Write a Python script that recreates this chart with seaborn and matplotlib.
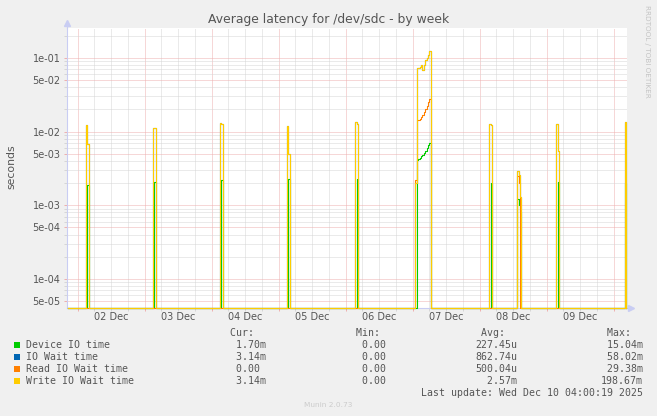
import numpy as np
import pandas as pd
import matplotlib
matplotlib.use("Agg")
import matplotlib.pyplot as plt
import matplotlib.transforms as mtransforms
from matplotlib.patches import Rectangle
from matplotlib.ticker import FixedLocator, NullFormatter
import seaborn as sns

# ---------------- data ----------------
series_names = ["Device IO time", "IO Wait time", "Read IO Wait time", "Write IO Wait time"]
series_colors = ["#00CC00", "#0066B3", "#FF8000", "#FFCC00"]

step_h = 0.5          # RRD step (hours)
first_h = -3.5        # hours relative to 02 Dec 00:00
last_h = 196.5

# start hour of every non-zero 30-min sample
spike_hours = [3.0, 3.5,
               27.0, 27.5,
               51.0, 51.5,
               75.0, 75.5,
               99.5, 100.0,
               121.0, 121.5, 122.0, 122.5, 123.0, 123.5, 124.0, 124.5, 125.0, 125.5, 126.0,
               147.5, 148.0,
               157.5, 158.0, 158.5,
               171.5, 172.0,
               196.0]

device_io = [0.0, 0.0019,
             0.0, 0.0021,
             0.0, 0.0022,
             0.0, 0.0023,
             0.0, 0.0023,
             0.0, 0.0041, 0.0042, 0.0044, 0.0046, 0.0048, 0.0051, 0.0054, 0.0060, 0.0066, 0.0070,
             0.0, 0.0020,
             0.0012, 0.0010, 0.0008,
             0.0, 0.0021,
             0.0020]

io_wait = [0.0124, 0.0067,
           0.0112, 0.0110,
           0.0130, 0.0125,
           0.0120, 0.0049,
           0.0133, 0.0125,
           0.0020, 0.0717, 0.0717, 0.0740, 0.0800, 0.0680, 0.0800, 0.0920, 0.1000, 0.1080, 0.1240,
           0.0128, 0.0122,
           0.0029, 0.0026, 0.0013,
           0.0128, 0.0054,
           0.0133]

read_io = [0.0, 0.0,
           0.0, 0.0,
           0.0, 0.0,
           0.0, 0.0,
           0.0, 0.0,
           0.0022, 0.0141, 0.0143, 0.0148, 0.0158, 0.0170, 0.0185, 0.0203, 0.0225, 0.0255, 0.0280,
           0.0, 0.0,
           0.0025, 0.0020, 0.0,
           0.0, 0.0,
           0.0]

write_io = [0.0124, 0.0067,
            0.0112, 0.0110,
            0.0130, 0.0125,
            0.0120, 0.0049,
            0.0133, 0.0125,
            0.0020, 0.0717, 0.0717, 0.0740, 0.0800, 0.0680, 0.0800, 0.0920, 0.1000, 0.1080, 0.1240,
            0.0128, 0.0122,
            0.0029, 0.0026, 0.0013,
            0.0128, 0.0054,
            0.0133]

y_limits = (4.05e-5, 0.253)
x_limits = (-3.8, 196.8)

ytick_vals = [5e-5, 1e-4, 5e-4, 1e-3, 5e-3, 1e-2, 5e-2, 1e-1]
ytick_labels = ["5e-05", "1e-04", "5e-04", "1e-03", "5e-03", "1e-02", "5e-02", "1e-01"]

day_bounds = [0, 24, 48, 72, 96, 120, 144, 168, 192]
day_label_hours = [12, 36, 60, 84, 108, 132, 156, 180]
day_labels = ["02 Dec", "03 Dec", "04 Dec", "05 Dec", "06 Dec", "07 Dec", "08 Dec", "09 Dec"]

cur_vals = ["1.70m", "3.14m", "0.00", "3.14m"]
min_vals = ["0.00", "0.00", "0.00", "0.00"]
avg_vals = ["227.45u", "862.74u", "500.04u", "2.57m"]
max_vals = ["15.04m", "58.02m", "29.38m", "198.67m"]

title = "Average latency for /dev/sdc - by week"
last_update = "Last update: Wed Dec 10 04:00:19 2025"

# ---------------- build table ----------------
hours = np.arange(first_h, last_h + step_h / 2, step_h)
rows = []
for name, vals in zip(series_names, [device_io, io_wait, read_io, write_io]):
    arr = np.zeros(len(hours))
    for h, v in zip(spike_hours, vals):
        arr[int(round((h - first_h) / step_h))] = v
    arr = np.where(arr > 0, arr, y_limits[0])
    rows.append(pd.DataFrame({"hours": hours, "value": arr, "series": name}))
df = pd.concat(rows, ignore_index=True)

# ---------------- figure ----------------
W, H = 657, 416
plt.rcParams["font.family"] = ["DejaVu Sans"]
fig = plt.figure(figsize=(W / 100, H / 100), dpi=100, facecolor="#F0F0F0")

def fx(x):
    return x / W

def fy(y):
    return 1 - y / H

L, R, T, B = 67, 627, 28, 308
ax = fig.add_axes([fx(L), fy(B), fx(R) - fx(L), fy(T) - fy(B)])
ax.set_facecolor("white")
ax.set_yscale("log")

major_c = "#eeb0b0"
minor_c = "#d6d6d6"
txt_c = "#555555"
axis_c = "#c9cdf3"
dot = (0, (1, 1))

sns.lineplot(data=df, x="hours", y="value", hue="series", hue_order=series_names,
             palette=dict(zip(series_names, series_colors)), estimator=None, sort=False,
             drawstyle="steps-post", linewidth=0.8, legend=False, ax=ax, zorder=3,
             clip_on=False)

ax.set_xlim(*x_limits)
ax.set_ylim(*y_limits)

# y grid
ax.yaxis.set_major_locator(FixedLocator(ytick_vals))
ax.set_yticklabels(ytick_labels)
yminor = [m * 10.0 ** e for e in range(-5, 0) for m in (2, 3, 4, 6, 7, 8, 9)
          if y_limits[0] < m * 10.0 ** e < y_limits[1]]
ax.yaxis.set_minor_locator(FixedLocator(yminor))
ax.yaxis.set_minor_formatter(NullFormatter())
ax.grid(True, which="major", axis="y", color=major_c, linestyle=dot, linewidth=0.72)
ax.grid(True, which="minor", axis="y", color=minor_c, linestyle=dot, linewidth=0.72)

# x grid
ax.xaxis.set_major_locator(FixedLocator(day_bounds))
ax.xaxis.set_major_formatter(NullFormatter())
xminor = [h for h in range(-6, 198, 6) if h % 24 != 0 and x_limits[0] < h < x_limits[1]]
ax.xaxis.set_minor_locator(FixedLocator(xminor))
ax.grid(True, which="major", axis="x", color=major_c, linestyle=dot, linewidth=0.72)
ax.grid(True, which="minor", axis="x", color=minor_c, linestyle=dot, linewidth=0.72)
ax.set_axisbelow(True)

ax.tick_params(axis="y", which="major", length=2.2, width=0.72, color=major_c,
               labelsize=7, labelcolor=txt_c, pad=2.5)
ax.tick_params(axis="y", which="minor", length=2.2, width=0.72, color=minor_c)
ax.tick_params(axis="x", which="major", length=2.2, width=0.72, color=major_c)
ax.tick_params(axis="x", which="minor", length=2.2, width=0.72, color=minor_c)

blend = mtransforms.blended_transform_factory(ax.transData, fig.transFigure)
for h, lab in zip(day_label_hours, day_labels):
    ax.text(h, fy(317.5), lab, transform=blend, ha="center", va="center",
            fontsize=7, color=txt_c)

ax.set_xlabel("")
ax.set_ylabel("")
for s in ("top", "right"):
    ax.spines[s].set_visible(False)
for s in ("left", "bottom"):
    ax.spines[s].set_color(axis_c)
    ax.spines[s].set_linewidth(0.8)
    ax.spines[s].set_zorder(1)

# axis arrows
ax.plot([fx(L)], [fy(23)], marker="^", markersize=4, color=axis_c, transform=fig.transFigure,
        clip_on=False)
ax.plot([fx(631)], [fy(B)], marker=">", markersize=4, color=axis_c, transform=fig.transFigure,
        clip_on=False)
ax.plot([fx(L), fx(L)], [fy(T), fy(24)], color=axis_c, lw=0.8, transform=fig.transFigure,
        clip_on=False)
ax.plot([fx(R), fx(630)], [fy(B), fy(B)], color=axis_c, lw=0.8, transform=fig.transFigure,
        clip_on=False)

# titles and labels
fig.text(fx(329), fy(19), title, ha="center", va="center", fontsize=8.9, color=txt_c)
fig.text(fx(11), fy(167), "seconds", rotation=90, ha="center", va="center",
         fontsize=7.8, color=txt_c)
fig.text(fx(647.5), fy(5), "RRDTOOL / TOBI OETIKER", rotation=270, ha="center", va="top",
         fontsize=5.2, color="#c4c4c4")
fig.text(fx(328), fy(405), "Munin 2.0.73", ha="center", va="center", fontsize=5.3,
         color="#cccccc")

# legend block
mono = "DejaVu Sans Mono"
msz = 7.15
col_x = [224.4, 350.4, 475.0, 600.7]
headers = ["Cur:", "Min:", "Avg:", "Max:"]
for cx, hd in zip(col_x, headers):
    fig.text(fx(cx), fy(332.7), (" " + hd).ljust(7), ha="left", va="center",
             family=mono, fontsize=msz, color=txt_c)

row_y = [344.7, 356.7, 368.7, 380.7]
for i, (name, col) in enumerate(zip(series_names, series_colors)):
    yy = row_y[i]
    fig.patches.append(Rectangle((fx(14), fy(yy + 3)), fx(6), 6 / H, transform=fig.transFigure,
                                 facecolor=col, edgecolor="none"))
    fig.text(fx(26), fy(yy), name, ha="left", va="center", family=mono, fontsize=msz,
             color=txt_c)
    for cx, vals in zip(col_x, [cur_vals, min_vals, avg_vals, max_vals]):
        v = vals[i]
        v = v if v[-1].isalpha() else v + " "
        fig.text(fx(cx), fy(yy), v.rjust(7), ha="left", va="center", family=mono,
                 fontsize=msz, color=txt_c)

fig.text(fx(643), fy(392.7), last_update, ha="right", va="center", family=mono,
         fontsize=msz, color=txt_c)

fig.savefig("out.png", dpi=100, facecolor=fig.get_facecolor())
